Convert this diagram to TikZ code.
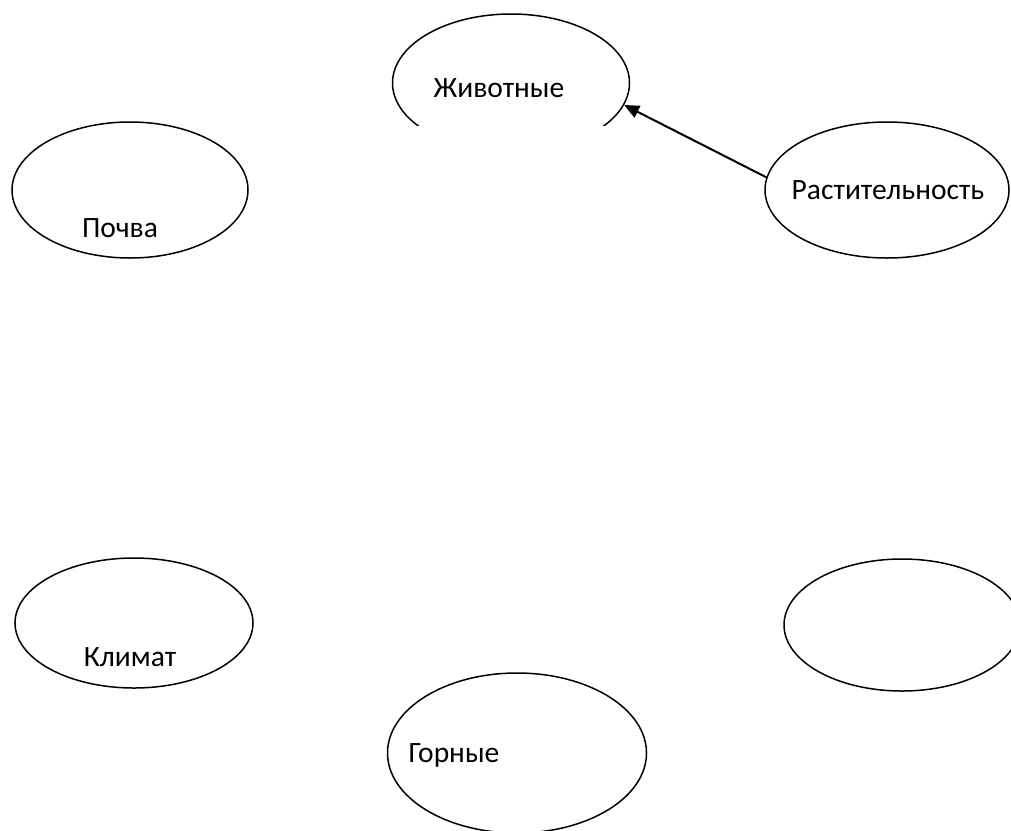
\documentclass[tikz,border=0pt]{standalone}
\usepackage{fontspec}
\setmainfont{Carlito}
\usetikzlibrary{shapes.geometric,arrows.meta}
\begin{document}
\begin{tikzpicture}[x=1pt,y=-1pt,
  oval/.style={draw=black,ellipse,line width=1.5pt,inner sep=0pt},
  lbl/.style={font=\fontsize{29.5}{33}\selectfont,inner sep=0pt,anchor=center},
  link/.style={line width=2pt,-{Triangle[length=15pt,width=13pt]}}]
\clip (0,0) rectangle (1011,830);
\fill[white] (0,0) rectangle (1011,830);
\begin{scope}
  \clip (0,0) rectangle (1011,125);
  \node[oval,minimum width=237pt,minimum height=138pt] (zhiv) at (511,83) {};
\end{scope}
\node[oval,minimum width=236pt,minimum height=136pt] (pochva) at (130,190) {};
\node[oval,minimum width=244pt,minimum height=136pt] (rast) at (887,190) {};
\node[oval,minimum width=238pt,minimum height=130pt] (klimat) at (134,623) {};
\node[oval,minimum width=236pt,minimum height=132pt] (blank) at (902,625) {};
\node[oval,minimum width=259pt,minimum height=160pt] (gornye) at (517,753) {};
\node[lbl] (tzhiv) at (499,88) {Животные};
\node[lbl] (tpochva) at (120,228) {Почва};
\node[lbl] (trast) at (888,190) {Растительность};
\node[lbl] (tklimat) at (130,657) {Климат};
\node[lbl] (tgornye) at (454,755) {Горные};
\draw[link] (rast.174) -- (zhiv.-11);
\end{tikzpicture}
\end{document}
